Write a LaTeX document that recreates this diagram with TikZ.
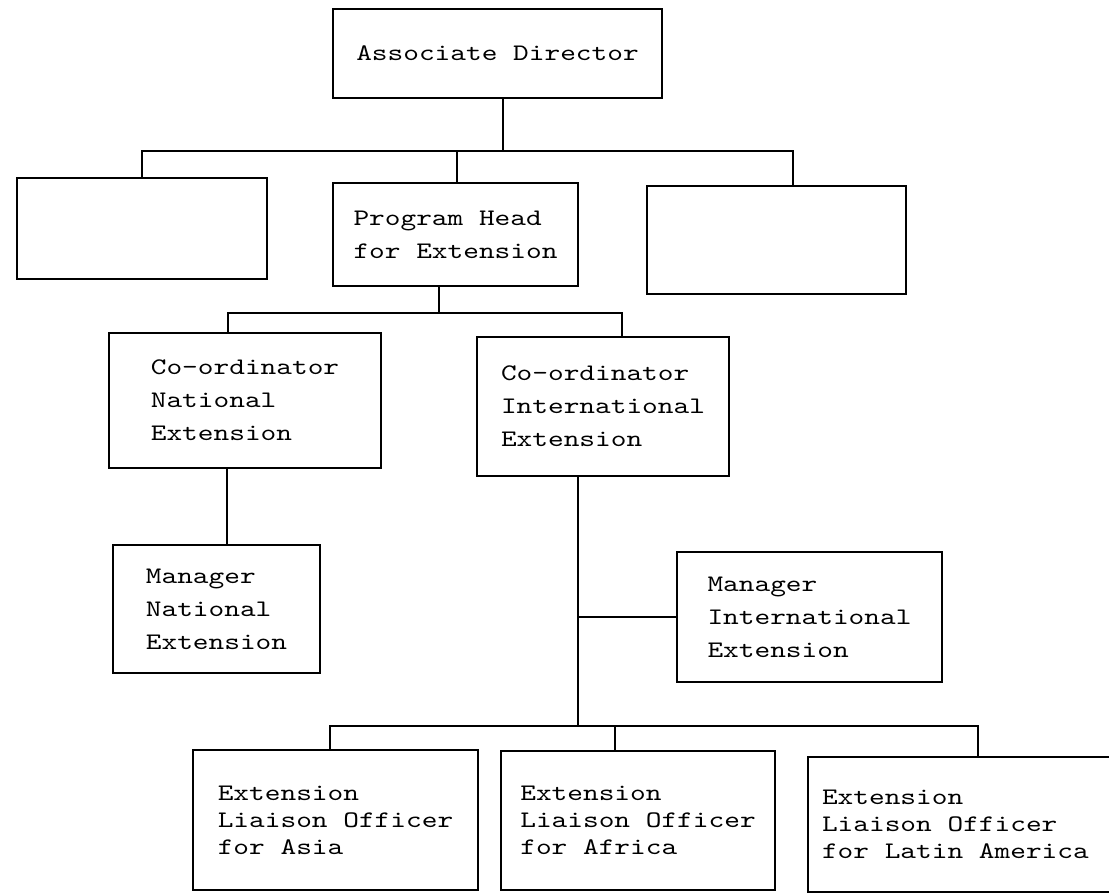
\documentclass[tikz,border=0pt]{standalone}
\usepackage{fontspec}
\setmonofont[FakeStretch=1.26]{lmmono10-regular.otf}
\usetikzlibrary{calc}
\tikzset{
  orgbox/.style={draw,line width=1.2pt,align=left,font=\ttfamily\fontsize{13.5pt}{18.8pt}\selectfont},
  lowbox/.style={orgbox,font=\ttfamily\fontsize{13.5pt}{15.4pt}\selectfont},
  orgline/.style={line width=1.2pt,line cap=rect},
}

\begin{document}
\begin{tikzpicture}[x=0.2mm,y=-0.2mm]
\useasboundingbox (0,0) rectangle (1109,894);
\clip (0,0) rectangle (1109,894);
% boxes
\node[orgbox,minimum width=65.8mm,minimum height=17.8mm] (assoc) at (497.5,53.5) {Associate Director};
\node[orgbox,minimum width=50mm,minimum height=20.2mm] (blankL) at (142,228.5) {};
\node[orgbox,minimum width=49mm,minimum height=20.6mm] (prog) at (455.5,234.5) {Program Head\\for Extension};
\node[orgbox,minimum width=51.8mm,minimum height=21.6mm] (blankR) at (776.5,240) {};
\node[orgbox,minimum width=54.4mm,minimum height=27mm] (coordN) at (245,400.5) {Co-ordinator\\National\\Extension};
\node[orgbox,minimum width=50.4mm,minimum height=27.8mm] (coordI) at (603,406.5) {Co-ordinator\\International\\Extension};
\node[orgbox,minimum width=41.4mm,minimum height=25.6mm] (mgrN) at (216.5,609) {Manager\\National\\Extension};
\node[orgbox,minimum width=53mm,minimum height=26mm] (mgrI) at (809.5,617) {Manager\\International\\Extension};
\node[lowbox,minimum width=57mm,minimum height=28mm] (asia) at (335.5,820) {Extension\\Liaison Officer\\for Asia};
\node[lowbox,minimum width=54.8mm,minimum height=27.8mm] (africa) at (638,820.5) {Extension\\Liaison Officer\\for Africa};
\node[lowbox,minimum width=64.4mm,minimum height=27mm,text width=58.8mm,align=flush left] (latin) at (969,824.5) {Extension\\Liaison Officer\\for Latin America};
% connectors
\coordinate (bus1) at (0,151);
\coordinate (bus2) at (0,313);
\coordinate (bus3) at (0,726);
\draw[orgline] ([xshift=1.1mm]assoc.south) -- ([xshift=1.1mm]assoc.south |- bus1);
\draw[orgline] (blankL.north) -- (blankL.north |- bus1) -- ([xshift=3.3mm]blankR.north |- bus1) -- ([xshift=3.3mm]blankR.north);
\draw[orgline] ([xshift=0.3mm]prog.north) -- ([xshift=0.3mm]prog.north |- bus1);
\draw[orgline] ([xshift=-3.3mm]prog.south) -- ([xshift=-3.3mm]prog.south |- bus2);
\draw[orgline] ([xshift=-3.4mm]coordN.north) -- ([xshift=-3.4mm]coordN.north |- bus2) -- ([xshift=3.8mm]coordI.north |- bus2) -- ([xshift=3.8mm]coordI.north);
\draw[orgline] ([xshift=-3.6mm]coordN.south) -- ([xshift=-3.6mm]coordN.south |- mgrN.north);
\coordinate (spine) at ([xshift=-5mm]coordI.south);
\draw[orgline] (spine) -- (spine |- bus3);
\draw[orgline] (mgrI.west) -- (mgrI.west -| spine);
\draw[orgline] ([xshift=-1.1mm]asia.north) -- ([xshift=-1.1mm]asia.north |- bus3) -- ([xshift=1.8mm]latin.north |- bus3) -- ([xshift=1.8mm]latin.north);
\draw[orgline] ([xshift=-4.6mm]africa.north) -- ([xshift=-4.6mm]africa.north |- bus3);
\end{tikzpicture}
\end{document}
